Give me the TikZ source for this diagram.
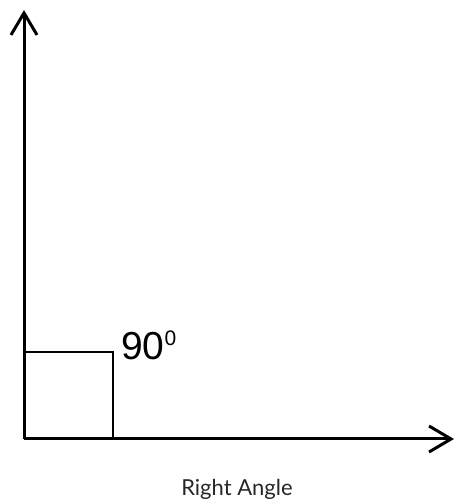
\documentclass[tikz,border=0pt]{standalone}
\usepackage{fontspec}
\setmainfont{Lato}
\newfontfamily\arialfont{Liberation Sans}
\usetikzlibrary{arrows.meta}
\begin{document}
\begin{tikzpicture}[x=1pt,y=1pt,
  axis/.style={line width=3pt,-{Straight Barb[length=22pt,width=26pt]}},
  rightmark/.style={line width=2.5pt}]
\useasboundingbox (0,0) rectangle (474,504);
\coordinate (O) at (24,65);
\coordinate (Y) at (24,494);
\coordinate (X) at (454,65);
\coordinate (S1) at (24,152);
\coordinate (S2) at (113,152);
\coordinate (S3) at (113,65);
\draw[axis] (O) -- (Y);
\draw[axis] (O) -- (X);
\draw[rightmark] (S1) -- (S2) -- (S3);
\node[anchor=base west,inner sep=0pt,font=\arialfont\fontsize{39}{42}\selectfont] (deg) at (121,144)
  {90\raisebox{14pt}{\fontsize{21}{21}\selectfont 0}};
\node[anchor=base,inner sep=0pt,text=black!85,font=\fontsize{22}{26}\selectfont] (cap) at (237,9) {Right Angle};
\end{tikzpicture}
\end{document}
